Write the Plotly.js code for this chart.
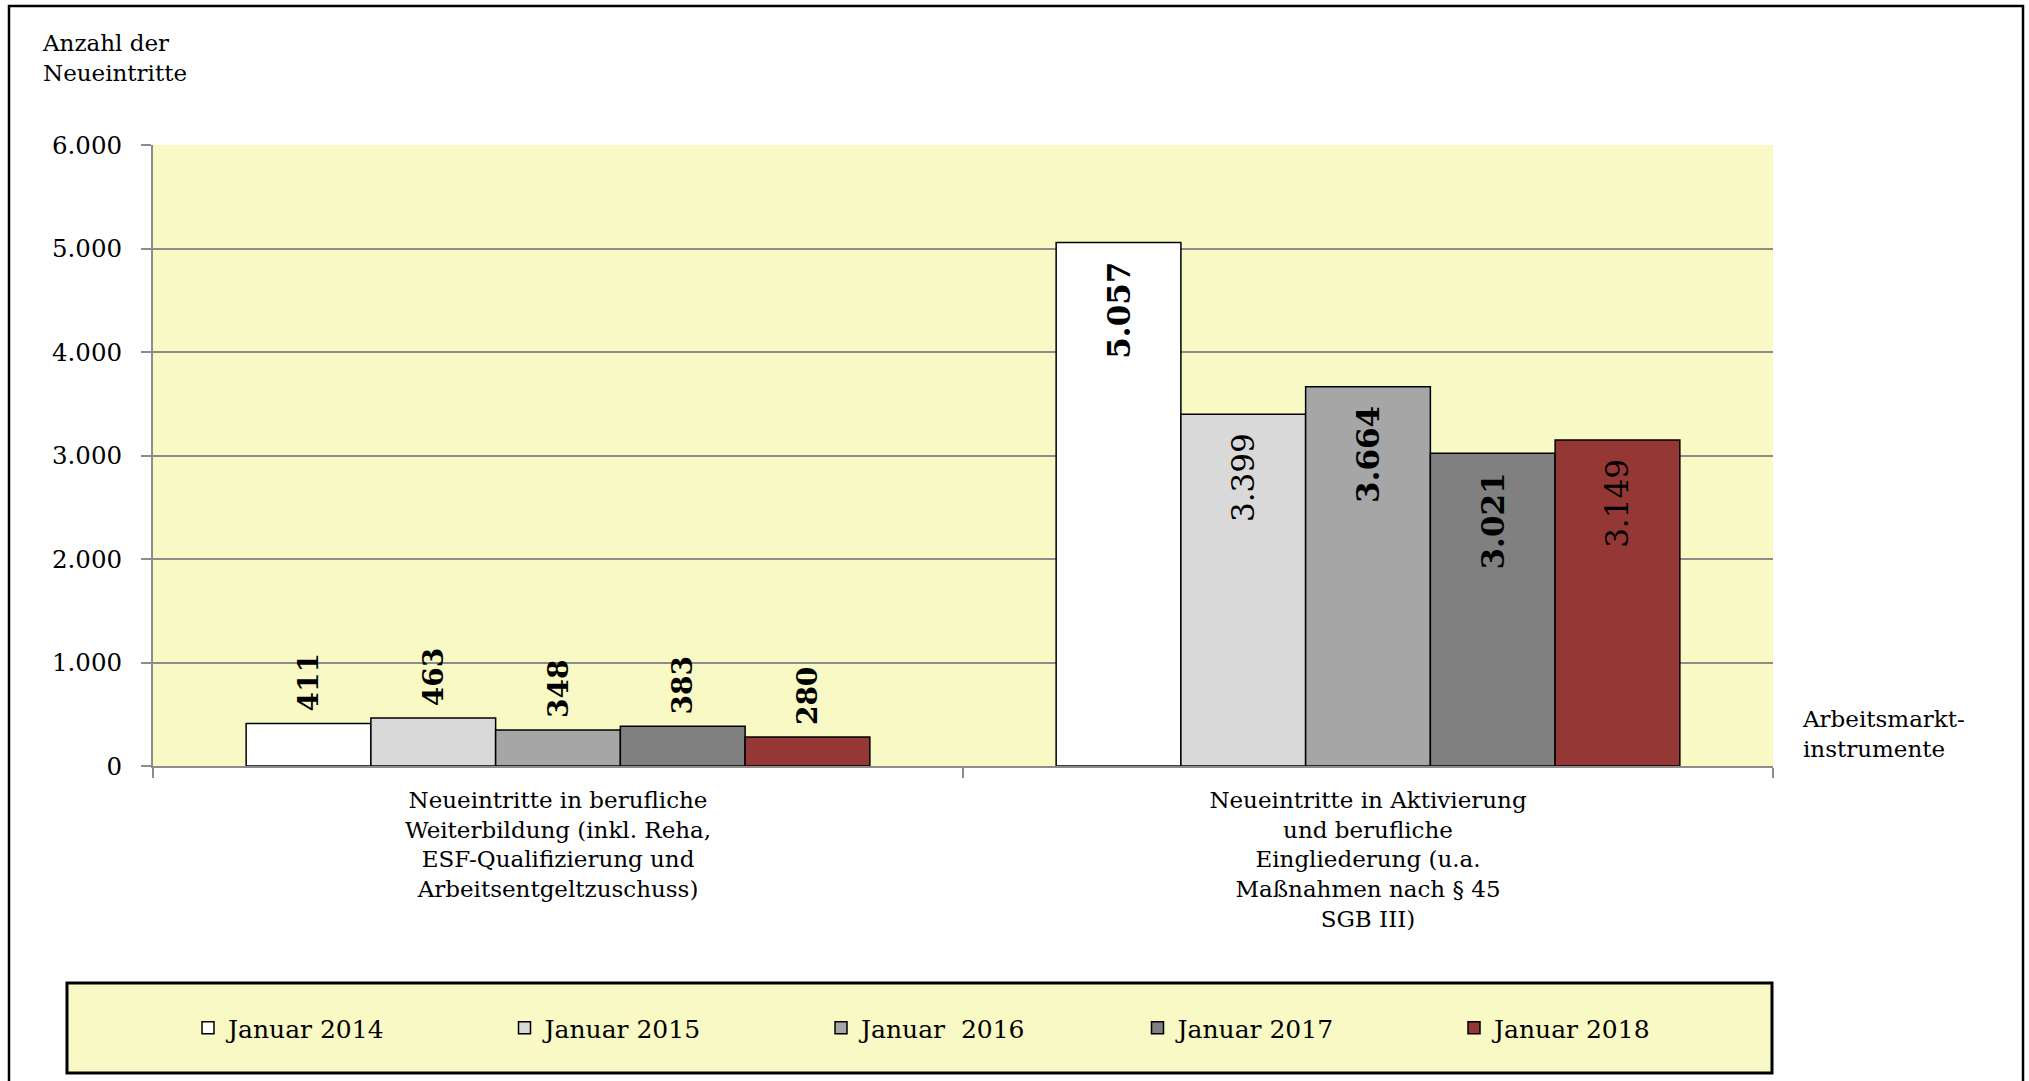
<!DOCTYPE html>
<html>
<head>
<meta charset="utf-8">
<script src="https://cdn.plot.ly/plotly-3.0.1.min.js"></script>
<style>
html,body{margin:0;padding:0;background:#ffffff;}
#chart{width:2029px;height:1081px;}
</style>
</head>
<body>
<div id="chart"></div>
<script>
// ---- data ----
const categories = [
  "Neueintritte in berufliche<br>Weiterbildung (inkl. Reha,<br>ESF-Qualifizierung und<br>Arbeitsentgeltzuschuss)",
  "Neueintritte in Aktivierung<br>und berufliche<br>Eingliederung (u.a.<br>Maßnahmen nach § 45<br>SGB III)"
];
const seriesNames = ["Januar 2014", "Januar 2015", "Januar  2016", "Januar 2017", "Januar 2018"];
const jan2014 = [411, 5057];
const jan2015 = [463, 3399];
const jan2016 = [348, 3664];
const jan2017 = [383, 3021];
const jan2018 = [280, 3149];
const yTickVals = [0, 1000, 2000, 3000, 4000, 5000, 6000];
const yAxisTitle = "Anzahl der<br>Neueintritte";
const xAxisTitle = "Arbeitsmarkt-<br>instrumente";

// ---- styles ----
const colors = ["#FFFFFF", "#D9D9D9", "#A6A6A6", "#808080", "#953735"];
const boldLabels = [
  [true, true], [true, false], [true, true], [true, true], [true, false]
];
const FONT = "DejaVu Serif";
const GRID = "#8c8c8c";
const BG = "#F8F9C4";
const NB = "\u00A0";
const NNB = "\u202F";

const seriesValues = [jan2014, jan2015, jan2016, jan2017, jan2018];

function labelTemplate(bold, inside) {
  const core = bold ? "<b>%{y:,.0f}</b>" : "%{y:,.0f}";
  return inside ? core + NB + NNB : NB + core;
}

const traces = seriesValues.map((vals, i) => ({
  type: "bar",
  name: seriesNames[i],
  x: categories,
  y: vals,
  marker: {color: colors[i], line: {color: "#000000", width: 1.5}},
  texttemplate: boldLabels[i].map((b, k) => labelTemplate(b, k === 1)),
  textposition: ["outside", "inside"],
  insidetextanchor: "end",
  textangle: -90,
  constraintext: "none",
  cliponaxis: false,
  textfont: {family: FONT, size: [28, 31], color: "#000000"},
  hoverinfo: "skip"
}));

// pixel helpers for paper coordinates
const L = 153, R = 1773, T = 145, B = 766;
const px = x => (x - L) / (R - L);
const py = y => (B - y) / (B - T);

const layout = {
  width: 2029,
  height: 1081,
  margin: {l: L, r: 2029 - R, t: T, b: 1081 - B, pad: 0},
  paper_bgcolor: "#FFFFFF",
  plot_bgcolor: BG,
  separators: ",.",
  barmode: "group",
  bargap: 0.23,
  bargroupgap: 0,
  hovermode: false,
  font: {family: FONT, color: "#000000", size: 24},
  xaxis: {
    type: "category",
    tickson: "boundaries",
    ticks: "outside",
    ticklen: 10,
    tickwidth: 2,
    tickcolor: GRID,
    showline: true,
    linecolor: GRID,
    linewidth: 2,
    showgrid: false,
    tickfont: {family: FONT, size: 23, color: "#000000"},
    ticklabelstandoff: 12,
    fixedrange: true
  },
  yaxis: {
    range: [0, 6000],
    tickvals: yTickVals,
    tickformat: ",.0f",
    ticks: "outside",
    ticklen: 10,
    tickwidth: 2,
    tickcolor: GRID,
    showline: true,
    linecolor: GRID,
    linewidth: 2,
    showgrid: true,
    gridcolor: GRID,
    gridwidth: 2,
    zeroline: false,
    tickfont: {family: FONT, size: 24.5, color: "#000000"},
    ticklabelstandoff: 14,
    fixedrange: true
  },
  showlegend: true,
  legend: {
    orientation: "h",
    x: px(188),
    xanchor: "left",
    y: py(1028),
    yanchor: "middle",
    bgcolor: "rgba(0,0,0,0)",
    borderwidth: 0,
    font: {family: FONT, size: 25, color: "#000000"},
    entrywidth: 271.5,
    entrywidthmode: "pixels",
    traceorder: "normal"
  },
  shapes: [
    {type: "rect", xref: "paper", yref: "paper", layer: "below",
     x0: px(67), x1: px(1772), y0: py(983), y1: py(1073),
     fillcolor: BG, line: {color: "#000000", width: 3}},
    {type: "rect", xref: "paper", yref: "paper", layer: "below",
     x0: px(9), x1: px(2023), y0: py(6), y1: py(1095),
     fillcolor: "rgba(0,0,0,0)", line: {color: "#000000", width: 2.5}}
  ],
  annotations: [
    {text: yAxisTitle, xref: "paper", yref: "paper", x: px(40), y: py(28),
     xanchor: "left", yanchor: "top", align: "left", showarrow: false,
     font: {family: FONT, size: 23, color: "#000000"}},
    {text: xAxisTitle, xref: "paper", yref: "paper", x: px(1800), y: py(704),
     xanchor: "left", yanchor: "top", align: "left", showarrow: false,
     font: {family: FONT, size: 23, color: "#000000"}}
  ]
};

Plotly.newPlot("chart", traces, layout, {displayModeBar: false, staticPlot: true});
</script>
</body>
</html>
